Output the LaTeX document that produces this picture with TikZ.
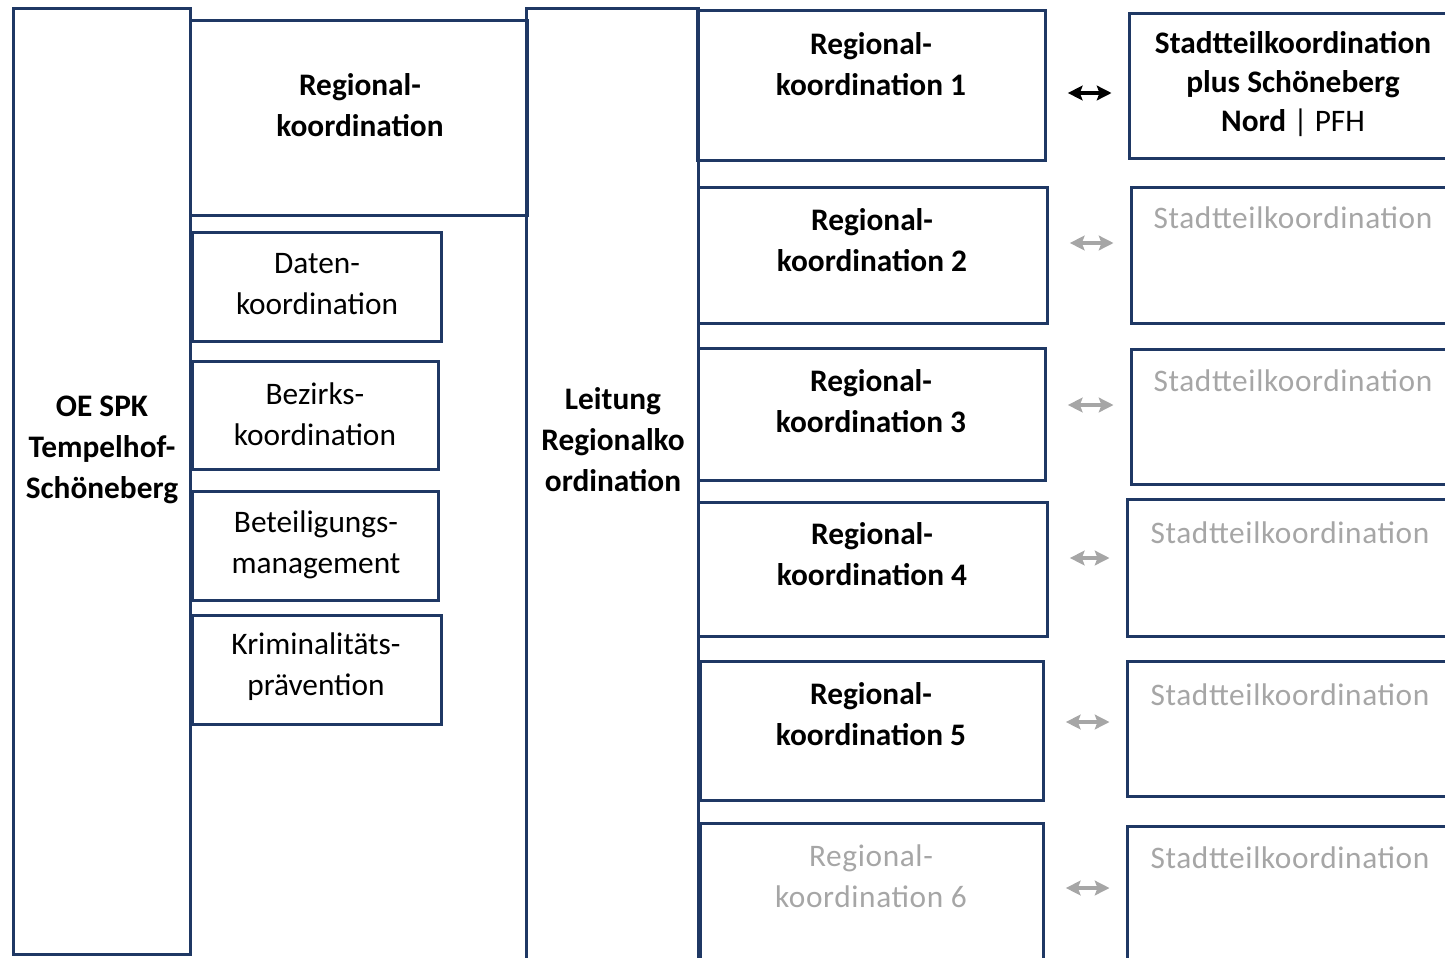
\documentclass[tikz,border=0pt]{standalone}
\usepackage{fontspec}
\setmainfont{Carlito}
\usetikzlibrary{arrows.meta,fit}
\definecolor{rahmenblau}{RGB}{31,56,100}
\definecolor{hellgrau}{RGB}{166,166,166}
\tikzset{
	kasten/.style={draw=rahmenblau, line width=2.25pt, inner sep=0pt, rectangle},
	schrift/.style={align=center, inner sep=0pt, font=\fontsize{23.5}{30.75}\selectfont},
	fett/.style={schrift, font=\fontsize{23.5}{30.75}\selectfont\bfseries},
	blass/.style={schrift, text=hellgrau, font=\fontsize{23.5}{30.75}\selectfont\addfontfeatures{LetterSpace=2}},
	pfeil/.style={line width=3pt, arrows={Stealth[length=11pt,width=11pt,inset=2pt]-Stealth[length=11pt,width=11pt,inset=2pt]}, shorten <=16pt, shorten >=12pt},
}

\begin{document}
\begin{tikzpicture}[x=0.75pt, y=-0.75pt]
			\clip (0,0) rectangle (1445,957);
			% linke Spalte
			\node[kasten, fit={(13,8) (190,954)}] (oe) {};
			\node[fett] (oet) at (102,450) {OE SPK\\Tempelhof-\\Schöneberg};
			\node[kasten, fit={(190,20) (527,215)}] (rk) {};
			\node[fett] (rkt) at (360,105) {Regional-\\koordination};
			\node[kasten, fit={(192,232) (441,341)}] (dk) {};
			\node[schrift] (dkt) at (317,284) {Daten-\\koordination};
			\node[kasten, fit={(192,361) (438,469)}] (bk) {};
			\node[schrift] (bkt) at (315,414) {Bezirks-\\koordination};
			\node[kasten, fit={(192,491) (438,600)}] (bm) {};
			\node[schrift] (bmt) at (316,545) {Beteiligungs-\\management};
			\node[kasten, fit={(192,615) (441,724)}] (kp) {};
			\node[schrift] (kpt) at (316,667) {Kriminalitäts-\\prävention};
			% Leitung
			\node[kasten, fit={(526,8) (698,1000)}] (lr) {};
			\node[fett] (lrt) at (613,440) {Leitung\\Regionalko\\ordination};
			% Regionalkoordinationen
			\node[kasten, fit={(697,10) (1045,160)}] (rk1) {};
			\node[fett] (rk1t) at (871,64) {Regional-\\koordination 1};
			\node[kasten, fit={(698,187) (1047,323)}] (rk2) {};
			\node[fett] (rk2t) at (872,240) {Regional-\\koordination 2};
			\node[kasten, fit={(698,348) (1045,480)}] (rk3) {};
			\node[fett] (rk3t) at (871,401) {Regional-\\koordination 3};
			\node[kasten, fit={(698,502) (1047,636)}] (rk4) {};
			\node[fett] (rk4t) at (872,554) {Regional-\\koordination 4};
			\node[kasten, fit={(700,661) (1043,800)}] (rk5) {};
			\node[fett] (rk5t) at (871,714) {Regional-\\koordination 5};
			\node[kasten, fit={(700,823) (1043,1000)}] (rk6) {};
			\node[blass] (rk6t) at (871,876) {Regional-\\koordination 6};
			% Stadtteilkoordinationen
			\node[kasten, fit={(1129,13) (1460,158)}] (st1) {};
			\node[fett, font=\fontsize{23.5}{29}\selectfont\bfseries] (st1t) at (1293,84) {Stadtteilkoordination\\plus Schöneberg\\Nord \mdseries| PFH};
			\node[kasten, fit={(1131,187) (1460,323)}] (st2) {};
			\node[blass] (st2t) at (1293,218) {Stadtteilkoordination};
			\node[kasten, fit={(1131,349) (1460,484)}] (st3) {};
			\node[blass] (st3t) at (1293,381) {Stadtteilkoordination};
			\node[kasten, fit={(1127,499) (1460,636)}] (st4) {};
			\node[blass] (st4t) at (1290,533) {Stadtteilkoordination};
			\node[kasten, fit={(1127,661) (1460,796)}] (st5) {};
			\node[blass] (st5t) at (1290,695) {Stadtteilkoordination};
			\node[kasten, fit={(1127,826) (1460,1000)}] (st6) {};
			\node[blass] (st6t) at (1290,858) {Stadtteilkoordination};
			% Pfeile
			\coordinate (p1) at (1090,93);
			\coordinate (p2) at (1090,243);
			\coordinate (p3) at (1090,405);
			\coordinate (p4) at (1090,558);
			\coordinate (p5) at (1090,722);
			\coordinate (p6) at (1090,888);
			\draw[pfeil] (rk1.east |- p1) -- (st1.west |- p1);
			\draw[pfeil, draw=hellgrau] (rk2.east |- p2) -- (st2.west |- p2);
			\draw[pfeil, draw=hellgrau] (rk3.east |- p3) -- (st3.west |- p3);
			\draw[pfeil, draw=hellgrau] (rk4.east |- p4) -- (st4.west |- p4);
			\draw[pfeil, draw=hellgrau] (rk5.east |- p5) -- (st5.west |- p5);
			\draw[pfeil, draw=hellgrau] (rk6.east |- p6) -- (st6.west |- p6);
\end{tikzpicture}
\end{document}
